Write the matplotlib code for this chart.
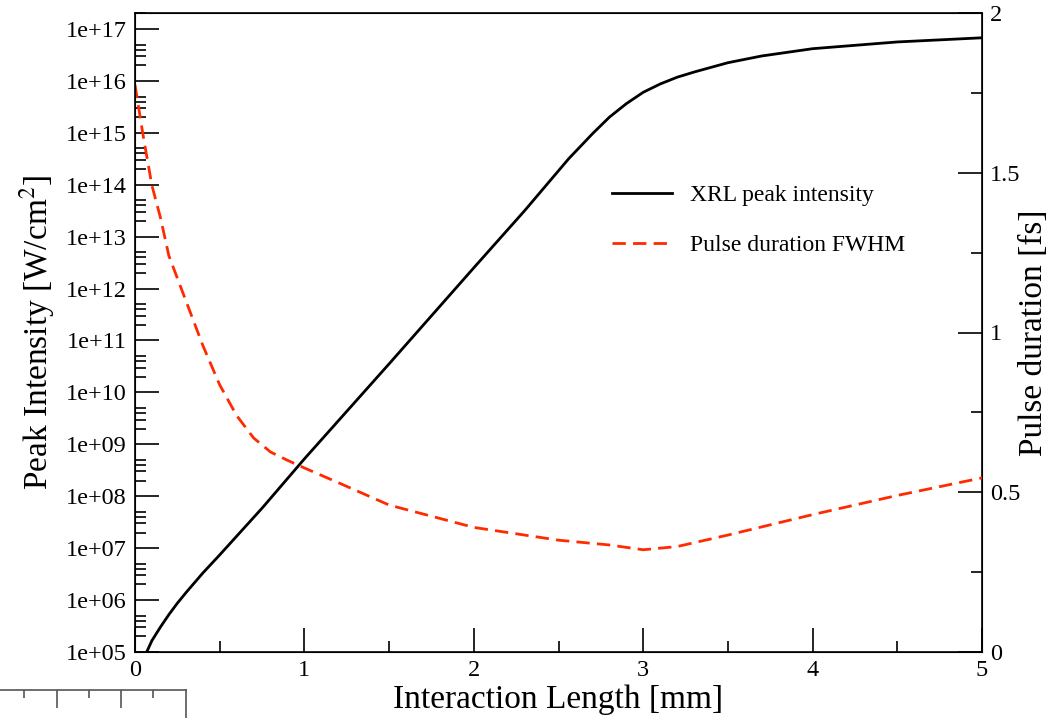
import matplotlib
matplotlib.use("Agg")
from matplotlib import pyplot as plt
from matplotlib.ticker import LogLocator, MultipleLocator, FuncFormatter, FixedLocator, NullFormatter
import numpy as np

# interaction length [mm] vs log10 of XRL peak intensity [W/cm^2]
length_int = [0.069, 0.1, 0.15, 0.2, 0.25, 0.3, 0.4, 0.5, 0.75, 1.0, 1.5,
              2.0, 2.3, 2.56, 2.7, 2.8, 2.9, 3.0, 3.1, 3.2, 3.3, 3.5, 3.7,
              4.0, 4.5, 5.0]
log_intensity = [5.0, 5.22, 5.48, 5.72, 5.94, 6.14, 6.52, 6.87, 7.77, 8.72,
                 10.55, 12.4, 13.5, 14.5, 14.98, 15.3, 15.56, 15.78, 15.94,
                 16.07, 16.17, 16.35, 16.48, 16.62, 16.75, 16.83]

# interaction length [mm] vs pulse duration FWHM [fs]
length_dur = [0.0, 0.05, 0.1, 0.15, 0.2, 0.3, 0.4, 0.5, 0.6, 0.7, 0.8, 0.9,
              1.0, 1.2, 1.5, 2.0, 2.5, 2.8, 3.0, 3.2, 3.5, 4.0, 4.5, 5.0]
duration = [1.775, 1.61, 1.46, 1.36, 1.24, 1.10, 0.96, 0.836, 0.74, 0.67,
            0.626, 0.60, 0.576, 0.53, 0.46, 0.39, 0.35, 0.335, 0.32, 0.33,
            0.366, 0.43, 0.49, 0.545]

plt.rcParams['font.family'] = ['Liberation Serif', 'DejaVu Serif']
plt.rcParams['mathtext.fontset'] = 'stix'

W, H = 1054, 718
fig = plt.figure(figsize=(W / 100, H / 100), dpi=100)
ax = fig.add_axes([135 / W, 1 - 652 / H, 847 / W, 639 / H])

x_int = np.array(length_int)
y_int = 10 ** np.array(log_intensity)
ax.plot(x_int, y_int, color='k', lw=2, label='XRL peak intensity')
ax.set_yscale('log')
ax.set_xlim(0, 5)
ax.set_ylim(1e5, 2.03e17)
ax.yaxis.set_major_locator(LogLocator(base=10, numticks=20))
ax.yaxis.set_minor_locator(LogLocator(base=10, subs=[2, 3, 4, 5], numticks=20))
ax.yaxis.set_major_formatter(FuncFormatter(lambda v, p: '1e+%02d' % round(np.log10(v))))
ax.yaxis.set_minor_formatter(NullFormatter())
ax.xaxis.set_major_locator(MultipleLocator(1))
ax.xaxis.set_minor_locator(MultipleLocator(0.5))
ax.tick_params(which='both', direction='in', top=False, right=False, labelsize=17.5, width=1.2)
ax.tick_params(which='major', length=17, pad=6)
ax.tick_params(which='minor', length=8)
for s in ax.spines.values():
    s.set_linewidth(1.2)
ax.set_xlabel('Interaction Length [mm]', fontsize=24, labelpad=2)
ax.set_ylabel('Peak Intensity [W/cm$^2$]', fontsize=24, labelpad=6)

ax2 = ax.twinx()
ax2.plot(length_dur, duration, color='#ff2a00', lw=2, dashes=(4.8, 2.6),
         label='Pulse duration FWHM')
ax2.set_ylim(0, 2)
ax2.yaxis.set_major_locator(MultipleLocator(0.5))
ax2.yaxis.set_minor_locator(MultipleLocator(0.25))
ax2.yaxis.set_major_formatter(FuncFormatter(lambda v, p: '%g' % v))
ax2.tick_params(which='both', direction='in', labelsize=17.5, width=1.2)
ax2.tick_params(which='major', length=17, pad=6)
ax2.tick_params(which='minor', length=8)
ax2.set_ylabel('Pulse duration [fs]', fontsize=24, labelpad=-2)

h1, l1 = ax.get_legend_handles_labels()
h2, l2 = ax2.get_legend_handles_labels()
ax2.legend(h1 + h2, l1 + l2, frameon=False, fontsize=17, loc='center left',
           bbox_to_anchor=(612 / W, 1 - 220.5 / H), bbox_transform=fig.transFigure,
           borderpad=0, borderaxespad=0, handlelength=2.54,
           labelspacing=1.22, handletextpad=0.76)

# fragment of a neighbouring panel in the lower left corner
frag = fig.add_axes([-200 / W, 1 - 800 / H, 386 / W, 110 / H])
frag.set_xlim(-200, 186)
frag.set_ylim(0, 1)
frag.xaxis.set_major_locator(FixedLocator([57, 121]))
frag.xaxis.set_minor_locator(FixedLocator([24, 89, 153]))
frag.tick_params(which='both', direction='in', bottom=False, top=True,
                 labelbottom=False, labelleft=False, left=False, color='#555', width=1.2)
frag.tick_params(which='major', length=13)
frag.tick_params(which='minor', length=6)
for s in frag.spines.values():
    s.set_color('#555')
    s.set_linewidth(1.2)

fig.savefig('out.png', dpi=100)
